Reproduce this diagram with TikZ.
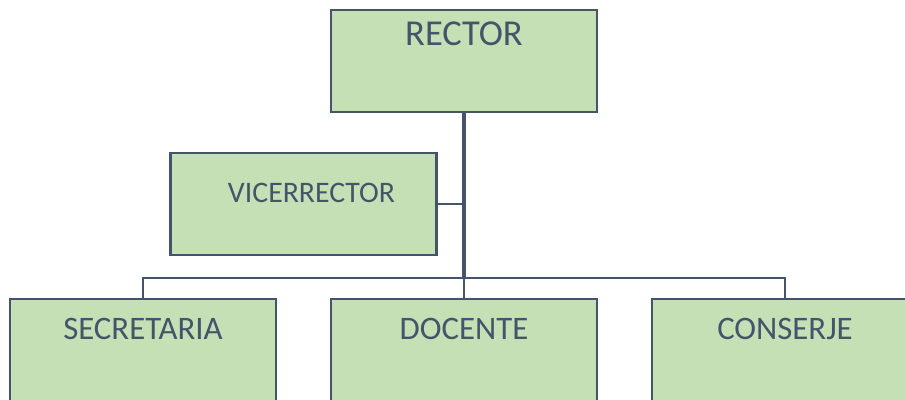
\documentclass[tikz,border=0pt]{standalone}
\usepackage{fontspec}
\setmainfont{Carlito}
\usetikzlibrary{calc}
\definecolor{slate}{HTML}{44546A}
\definecolor{leaf}{HTML}{C5E0B4}
\tikzset{
    unit/.style={draw=slate, fill=leaf, text=slate, line width=2.4pt, inner sep=0pt,
        minimum width=266pt, minimum height=102pt, text depth=61.4pt, text height=40.6pt,
        font=\fontsize{32.8}{38}\selectfont},
    trunk/.style={draw=slate, line width=3.4pt},
    link/.style={draw=slate, line width=2.4pt},
}

\begin{document}
\begin{tikzpicture}[x=1pt, y=-1pt]
    \useasboundingbox (0,0) rectangle (905,399);
    \clip (0,0) rectangle (905,399);

    \node [unit, text height=35.7pt, text depth=66.3pt, font=\fontsize{36.5}{42}\selectfont] (rector) at (464,61) {RECTOR};
    \node [unit, text height=49.7pt, text depth=52.3pt, font=\fontsize{29.8}{35}\selectfont] (vicerrector) at (303.5,204) {\hspace*{16pt}VICERRECTOR};
    \node [unit] (secretaria) at (143,349.7) {SECRETARIA};
    \node [unit] (docente) at (464,349.7) {DOCENTE};
    \node [unit] (conserje) at (785,349.7) {CONSERJE};

    \coordinate (bar) at (464,278);
    \coordinate (barL) at (secretaria.north |- bar);
    \coordinate (barR) at (conserje.north |- bar);

    \draw [trunk] (rector.south) -- (bar);
    \draw [link] (vicerrector.east) -- (vicerrector.east -| rector.south);
    \draw [link] (secretaria.north) -- (barL) -- (barR) -- (conserje.north);
    \draw [link] (bar) -- (docente.north);
\end{tikzpicture}
\end{document}
